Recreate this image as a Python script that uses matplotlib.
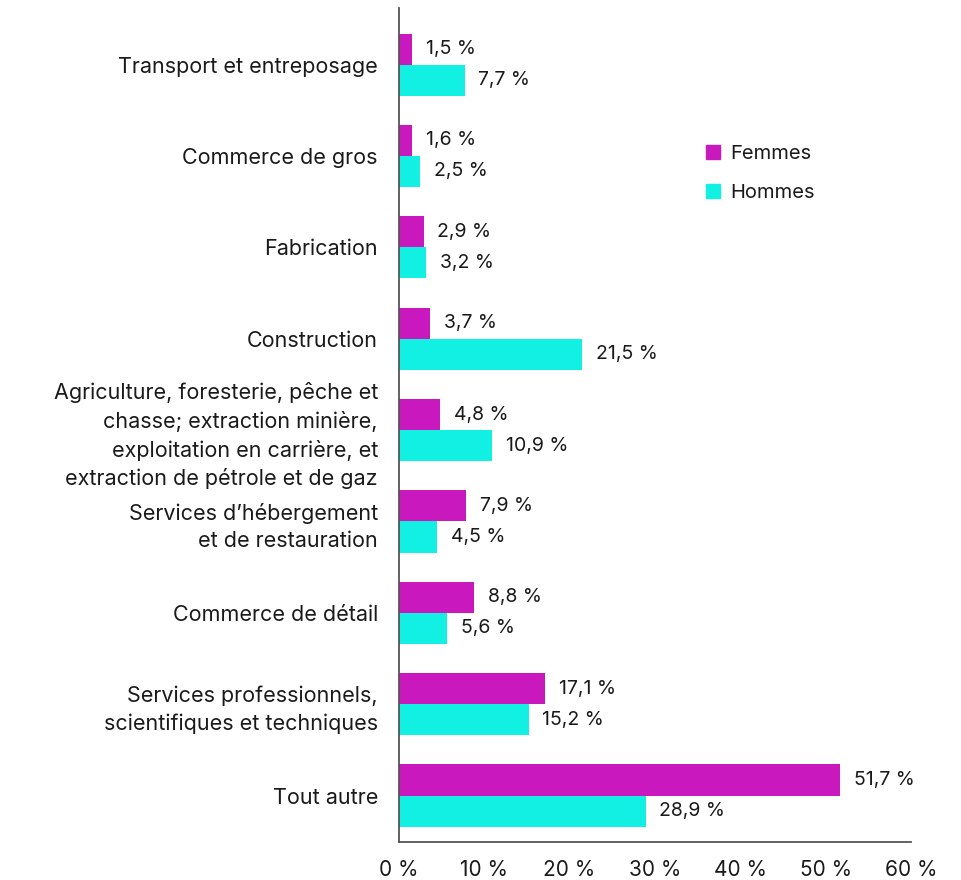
import matplotlib
matplotlib.use("Agg")
import matplotlib.pyplot as plt
import numpy as np
from matplotlib.patches import Patch

# categories, top to bottom as in the chart
categories = [
    "Transport et entreposage",
    "Commerce de gros",
    "Fabrication",
    "Construction",
    "Agriculture, foresterie, pêche et\nchasse; extraction minière,\nexploitation en carrière, et\nextraction de pétrole et de gaz",
    "Services d\u2019hébergement\net de restauration",
    "Commerce de détail",
    "Services professionnels,\nscientifiques et techniques",
    "Tout autre",
]
femmes = [1.5, 1.6, 2.9, 3.7, 4.8, 7.9, 8.8, 17.1, 51.7]
hommes = [7.7, 2.5, 3.2, 21.5, 10.9, 4.5, 5.6, 15.2, 28.9]
xticks = [0, 10, 20, 30, 40, 50, 60]

col_f = "#c918bd"
col_h = "#12f0e4"
txt = "#1a1a1a"

plt.rcParams["font.family"] = ["Inter", "DejaVu Sans"]

fig = plt.figure(figsize=(9.61, 8.8), dpi=100)
ax = fig.add_axes([0.415, 0.043, 0.533, 0.948])

n = len(categories)
pos = np.arange(n)[::-1]
h = 0.34

ax.barh(pos + h / 2, femmes, height=h, color=col_f, label="Femmes")
ax.barh(pos - h / 2, hommes, height=h, color=col_h, label="Hommes")

def fmt(v):
    return ("%.1f" % v).replace(".", ",") + " %"

for p, f, m in zip(pos, femmes, hommes):
    ax.annotate(fmt(f), (f, p + h / 2), xytext=(10, 0), textcoords="offset points",
                va="center", ha="left", fontsize=14, color=txt)
    ax.annotate(fmt(m), (m, p - h / 2), xytext=(10, 0), textcoords="offset points",
                va="center", ha="left", fontsize=14, color=txt)

ax.set_yticks(pos)
ax.set_yticklabels(categories, fontsize=15.5, color=txt, linespacing=1.45)
ax.set_xticks(xticks)
ax.set_xticklabels([f"{t} %" for t in xticks], fontsize=15, color=txt)
ax.tick_params(axis="y", length=0, pad=15)
ax.tick_params(axis="x", length=0, pad=13)
ax.set_xlim(0, 60)
ax.set_ylim(-0.51, n - 1 + 0.62)

for s in ["top", "right"]:
    ax.spines[s].set_visible(False)
ax.spines["left"].set_color("#555555")
ax.spines["bottom"].set_color("#555555")
ax.spines["left"].set_linewidth(1.3)
ax.spines["bottom"].set_linewidth(1.3)

handles = [Patch(color=col_f, label="Femmes"), Patch(color=col_h, label="Hommes")]
ax.legend(handles=handles, loc="upper left", bbox_to_anchor=(0.565, 0.858),
          frameon=False, fontsize=14.5, handlelength=0.7, handleheight=0.7,
          handletextpad=0.5, labelspacing=1.05, labelcolor=txt)

fig.savefig("out.png", dpi=100)
